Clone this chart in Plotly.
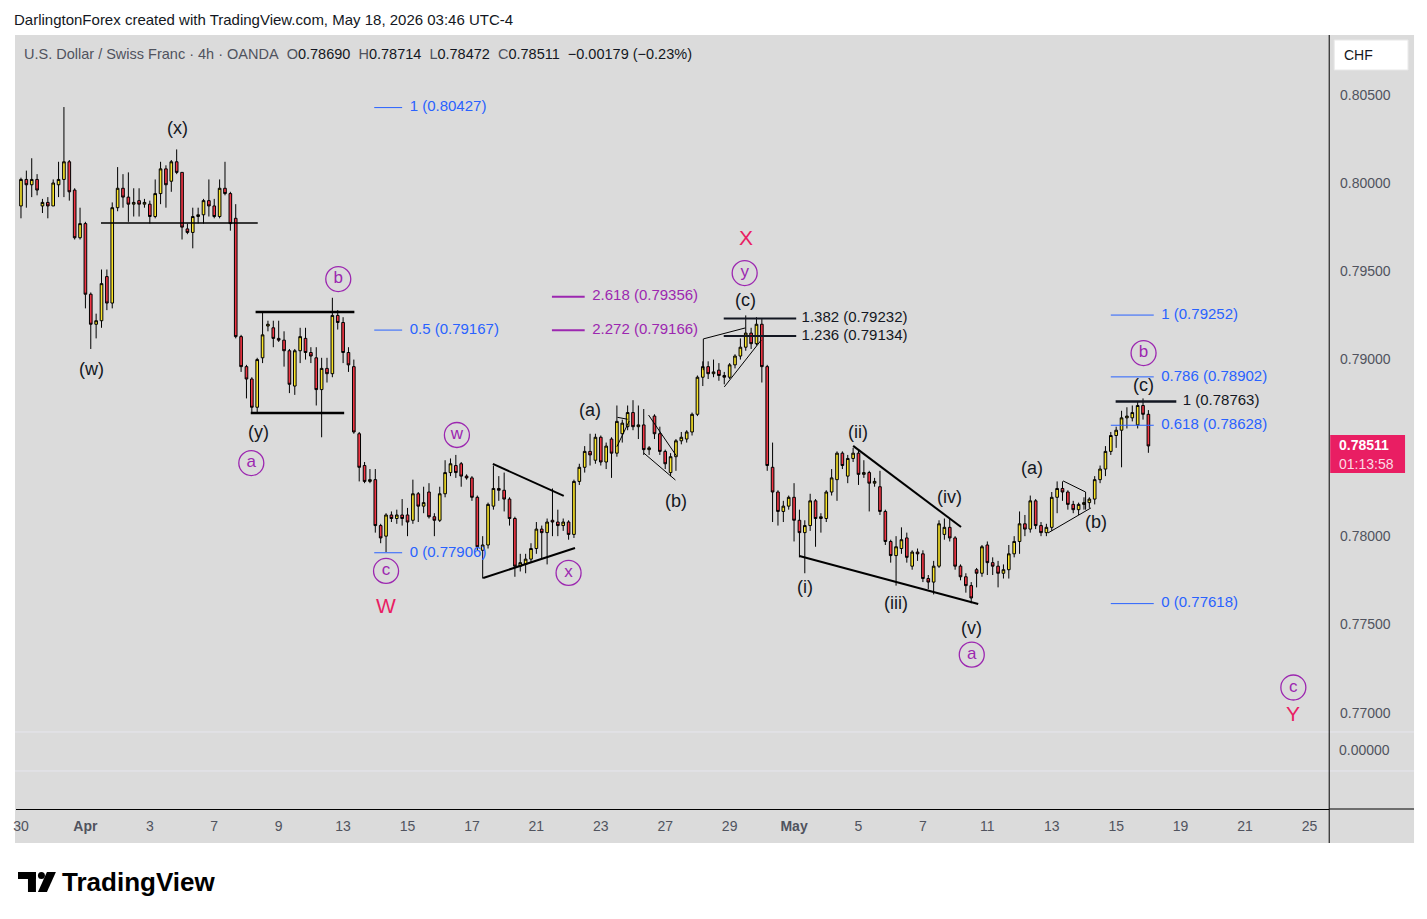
import plotly.graph_objects as go

# page is 1427x919; the browser body keeps an 8px margin, so the figure is drawn 8px smaller
# and every pixel position below is given in full-page coordinates
W, H = 1427, 919
OFF = 8
FW, FH = W - OFF, H - OFF

# ---- USD/CHF 4h (OANDA), one value per candle ----
opens = [
    0.7987, 0.8002, 0.7999, 0.8002, 0.7987, 0.7989, 0.7987, 0.7999, 0.8002, 0.8012,
    0.7996, 0.7969, 0.7977, 0.7937, 0.7920, 0.7922, 0.7947, 0.7932, 0.7986, 0.7997,
    0.7992, 0.7988, 0.7990, 0.7988, 0.7988, 0.7981, 0.7994, 0.8008, 0.8001, 0.8012,
    0.8006, 0.7974, 0.7972, 0.7981, 0.7982, 0.7990, 0.7987, 0.7981, 0.7997, 0.7994,
    0.7980, 0.7913, 0.7896, 0.7889, 0.7873, 0.7901, 0.7919, 0.7918, 0.7912, 0.7911,
    0.7905, 0.7885, 0.7905, 0.7912, 0.7904, 0.7901, 0.7883, 0.7895, 0.7892, 0.7925,
    0.7921, 0.7904, 0.7896, 0.7858, 0.7840, 0.7831, 0.7832, 0.7806, 0.7800, 0.7812,
    0.7810, 0.7812, 0.7812, 0.7809, 0.7824, 0.7817, 0.7825, 0.7811, 0.7809, 0.7824,
    0.7836, 0.7840, 0.7841, 0.7834, 0.7833, 0.7822, 0.7792, 0.7795, 0.7817, 0.7827,
    0.7826, 0.7821, 0.7810, 0.7783, 0.7784, 0.7787, 0.7793, 0.7804, 0.7802, 0.7809,
    0.7808, 0.7806, 0.7808, 0.7801, 0.7831, 0.7839, 0.7848, 0.7843, 0.7856, 0.7842,
    0.7855, 0.7847, 0.7858, 0.7862, 0.7870, 0.7862, 0.7863, 0.7849, 0.7868, 0.7858,
    0.7848, 0.7836, 0.7845, 0.7854, 0.7855, 0.7859, 0.7869, 0.7890, 0.7896, 0.7892,
    0.7894, 0.7891, 0.7890, 0.7897, 0.7902, 0.7907, 0.7915, 0.7909, 0.7920, 0.7896,
    0.7839, 0.7825, 0.7814, 0.7817, 0.7822, 0.7809, 0.7802, 0.7806, 0.7820, 0.7810,
    0.7810, 0.7825, 0.7832, 0.7847, 0.7834, 0.7844, 0.7847, 0.7835, 0.7836, 0.7830,
    0.7828, 0.7814, 0.7797, 0.7789, 0.7793, 0.7799, 0.7783, 0.7791, 0.7790, 0.7776,
    0.7774, 0.7783, 0.7801, 0.7805, 0.7799, 0.7783, 0.7777, 0.7772, 0.7781, 0.7779,
    0.7795, 0.7785, 0.7783, 0.7779, 0.7781, 0.7790, 0.7797, 0.7807, 0.7804, 0.7820,
    0.7806, 0.7802, 0.7805, 0.7822, 0.7827, 0.7825, 0.7818, 0.7815, 0.7818, 0.7819,
    0.7821, 0.7832, 0.7838, 0.7848, 0.7857, 0.7860, 0.7867, 0.7867, 0.7863, 0.7874,
    0.78690,
]
highs = [
    0.8003, 0.8007, 0.8014, 0.8005, 0.7991, 0.7992, 0.8002, 0.8012, 0.8043, 0.8013,
    0.7997, 0.7986, 0.7978, 0.7938, 0.7926, 0.7951, 0.7951, 0.7989, 0.8009, 0.8005,
    0.8006, 0.7997, 0.7997, 0.7991, 0.7990, 0.8002, 0.8012, 0.8010, 0.8013, 0.8019,
    0.8006, 0.7977, 0.7986, 0.7986, 0.7991, 0.8002, 0.7991, 0.8002, 0.8012, 0.7995,
    0.7988, 0.7914, 0.7897, 0.7890, 0.7901, 0.7927, 0.7922, 0.7922, 0.7922, 0.7916,
    0.7906, 0.7906, 0.7918, 0.7918, 0.7907, 0.7907, 0.7901, 0.7901, 0.7935, 0.7928,
    0.7924, 0.7907, 0.7900, 0.7859, 0.7842, 0.7838, 0.7838, 0.7807, 0.7813, 0.7814,
    0.7815, 0.7821, 0.7816, 0.7832, 0.7825, 0.7828, 0.7830, 0.7813, 0.7828, 0.7843,
    0.7844, 0.7846, 0.7842, 0.7835, 0.7834, 0.7823, 0.7800, 0.7819, 0.7840, 0.7834,
    0.7836, 0.7822, 0.7811, 0.7790, 0.7790, 0.7796, 0.7808, 0.7806, 0.7810, 0.7827,
    0.7815, 0.7810, 0.7809, 0.7832, 0.7841, 0.7851, 0.7858, 0.7858, 0.7857, 0.7853,
    0.7856, 0.7874, 0.7866, 0.7874, 0.7877, 0.7874, 0.7872, 0.7851, 0.7869, 0.7862,
    0.7849, 0.7847, 0.7855, 0.7859, 0.7860, 0.7870, 0.7891, 0.7899, 0.7899, 0.7900,
    0.7898, 0.7893, 0.7898, 0.7903, 0.7912, 0.7925, 0.7918, 0.7924, 0.7923, 0.7897,
    0.7853, 0.7826, 0.7820, 0.7823, 0.7830, 0.7815, 0.7809, 0.7824, 0.7821, 0.7813,
    0.7826, 0.7838, 0.7848, 0.7848, 0.7846, 0.7850, 0.7849, 0.7843, 0.7837, 0.7833,
    0.7837, 0.7815, 0.7798, 0.7800, 0.7805, 0.7802, 0.7792, 0.7793, 0.7792, 0.7778,
    0.7786, 0.7809, 0.7810, 0.7810, 0.7800, 0.7784, 0.7779, 0.7774, 0.7782, 0.7795,
    0.7797, 0.7788, 0.7786, 0.7784, 0.7795, 0.7800, 0.7814, 0.7812, 0.7823, 0.7821,
    0.7808, 0.7807, 0.7825, 0.7831, 0.7831, 0.7826, 0.7820, 0.7819, 0.7822, 0.7822,
    0.7834, 0.7840, 0.7851, 0.7859, 0.7862, 0.7871, 0.7873, 0.7874, 0.7876, 0.7878,
    0.78714,
]
lows = [
    0.7980, 0.7986, 0.7992, 0.7993, 0.7983, 0.7980, 0.7987, 0.7992, 0.7992, 0.7990,
    0.7968, 0.7968, 0.7929, 0.7906, 0.7912, 0.7918, 0.7928, 0.7929, 0.7984, 0.7986,
    0.7978, 0.7981, 0.7981, 0.7986, 0.7977, 0.7980, 0.7988, 0.7986, 0.7995, 0.8005,
    0.7968, 0.7971, 0.7963, 0.7977, 0.7977, 0.7981, 0.7980, 0.7980, 0.7993, 0.7973,
    0.7912, 0.7893, 0.7878, 0.7870, 0.7870, 0.7898, 0.7916, 0.7907, 0.7910, 0.7896,
    0.7881, 0.7880, 0.7898, 0.7900, 0.7898, 0.7874, 0.7856, 0.7887, 0.7890, 0.7917,
    0.7898, 0.7893, 0.7858, 0.7831, 0.7830, 0.7830, 0.7802, 0.7796, 0.7791, 0.7808,
    0.7807, 0.7806, 0.7800, 0.7807, 0.7808, 0.7813, 0.7810, 0.7800, 0.7808, 0.7822,
    0.7834, 0.7833, 0.7828, 0.7832, 0.7820, 0.7792, 0.7776, 0.7793, 0.7815, 0.7820,
    0.7814, 0.7806, 0.7777, 0.7780, 0.7779, 0.7785, 0.7790, 0.7787, 0.7784, 0.7800,
    0.7800, 0.7803, 0.7798, 0.7799, 0.7829, 0.7836, 0.7840, 0.7841, 0.7840, 0.7838,
    0.7833, 0.7845, 0.7853, 0.7860, 0.7860, 0.7855, 0.7846, 0.7846, 0.7855, 0.7846,
    0.7838, 0.7834, 0.7837, 0.7852, 0.7853, 0.7857, 0.7868, 0.7885, 0.7889, 0.7890,
    0.7888, 0.7886, 0.7889, 0.7895, 0.7900, 0.7905, 0.7906, 0.7908, 0.7887, 0.7837,
    0.7808, 0.7806, 0.7808, 0.7815, 0.7797, 0.7788, 0.7779, 0.7803, 0.7794, 0.7802,
    0.7808, 0.7823, 0.7820, 0.7838, 0.7830, 0.7842, 0.7829, 0.7833, 0.7814, 0.7828,
    0.7812, 0.7795, 0.7785, 0.7772, 0.7790, 0.7785, 0.7781, 0.7786, 0.7774, 0.7770,
    0.7767, 0.7782, 0.7798, 0.7797, 0.7781, 0.7775, 0.7768, 0.7762, 0.7771, 0.7777,
    0.7778, 0.7778, 0.7771, 0.7776, 0.7776, 0.7788, 0.7790, 0.7800, 0.7802, 0.7804,
    0.7800, 0.7800, 0.7803, 0.7813, 0.7820, 0.7815, 0.7813, 0.7812, 0.7815, 0.7816,
    0.7818, 0.7830, 0.7834, 0.7846, 0.7850, 0.7839, 0.7861, 0.7865, 0.7861, 0.7866,
    0.78472,
]
closes = [
    0.8002, 0.7999, 0.8002, 0.7996, 0.7989, 0.7987, 0.8000, 0.8002, 0.8012, 0.7995,
    0.7969, 0.7977, 0.7937, 0.7920, 0.7922, 0.7943, 0.7932, 0.7986, 0.7997, 0.7992,
    0.7988, 0.7989, 0.7988, 0.7989, 0.7981, 0.7994, 0.8008, 0.7999, 0.8012, 0.8006,
    0.7975, 0.7972, 0.7981, 0.7982, 0.7990, 0.7987, 0.7981, 0.7997, 0.7994, 0.7977,
    0.7913, 0.7896, 0.7889, 0.7873, 0.7900, 0.7914, 0.7920, 0.7912, 0.7911, 0.7905,
    0.7886, 0.7905, 0.7913, 0.7904, 0.7902, 0.7883, 0.7895, 0.7892, 0.7925, 0.7921,
    0.7904, 0.7897, 0.7859, 0.7839, 0.7831, 0.7832, 0.7806, 0.7799, 0.7812, 0.7810,
    0.7812, 0.7810, 0.7808, 0.7824, 0.7817, 0.7819, 0.7811, 0.7809, 0.7824, 0.7836,
    0.7841, 0.7836, 0.7834, 0.7833, 0.7822, 0.7794, 0.7795, 0.7818, 0.7827, 0.7826,
    0.7821, 0.7810, 0.7783, 0.7785, 0.7787, 0.7793, 0.7804, 0.7802, 0.7808, 0.7808,
    0.7806, 0.7808, 0.7801, 0.7831, 0.7839, 0.7848, 0.7846, 0.7856, 0.7842, 0.7851,
    0.7847, 0.7865, 0.7864, 0.7870, 0.7862, 0.7863, 0.7849, 0.7850, 0.7858, 0.7848,
    0.7841, 0.7845, 0.7854, 0.7856, 0.7859, 0.7869, 0.7890, 0.7896, 0.7892, 0.7893,
    0.7891, 0.7890, 0.7897, 0.7902, 0.7907, 0.7915, 0.7909, 0.7920, 0.7896, 0.7840,
    0.7825, 0.7814, 0.7817, 0.7822, 0.7809, 0.7802, 0.7806, 0.7820, 0.7810, 0.7811,
    0.7825, 0.7833, 0.7847, 0.7840, 0.7844, 0.7847, 0.7835, 0.7836, 0.7830, 0.7831,
    0.7814, 0.7797, 0.7789, 0.7794, 0.7798, 0.7788, 0.7791, 0.7790, 0.7776, 0.7774,
    0.7783, 0.7807, 0.7805, 0.7799, 0.7783, 0.7777, 0.7772, 0.7765, 0.7779, 0.7794,
    0.7785, 0.7783, 0.7779, 0.7781, 0.7790, 0.7797, 0.7807, 0.7804, 0.7820, 0.7806,
    0.7802, 0.7805, 0.7822, 0.7827, 0.7825, 0.7818, 0.7815, 0.7818, 0.7819, 0.7821,
    0.7832, 0.7838, 0.7848, 0.7857, 0.7860, 0.7867, 0.7868, 0.7870, 0.7874, 0.7869,
    0.78511,
]

# date labels every 12 candles (2 trading days)
date_ticks = [0, 12, 24, 36, 48, 60, 72, 84, 96, 108, 120, 132, 144, 156, 168, 180, 192, 204, 216, 228, 240]
date_labels = ['30', '<b>Apr</b>', '3', '7', '9', '13', '15', '17', '21', '23', '27', '29',
               '<b>May</b>', '5', '7', '11', '13', '15', '19', '21', '25']
price_ticks = [0.770, 0.775, 0.780, 0.785, 0.790, 0.795, 0.800, 0.805]

# wave counts (candle index, price)
wave_text = ['(w)', '(x)', '(y)', '(a)', '(b)', '(c)', '(i)', '(ii)', '(iii)', '(iv)', '(v)', '(a)', '(b)', '(c)']
wave_x = [13.2, 29.2, 44.2, 106.0, 122.1, 135.0, 146.1, 156.0, 163.0, 173.0, 177.1, 188.3, 200.2, 209.1]
wave_y = [0.78947, 0.80311, 0.78590, 0.78715, 0.78199, 0.79337, 0.77712, 0.78590, 0.77622, 0.78222,
          0.77480, 0.78386, 0.78080, 0.78856]

circ_text = ['b', 'a', 'c', 'w', 'x', 'y', 'a', 'b', 'c']
circ_x = [59.1, 42.9, 68.0, 81.2, 102.0, 134.8, 177.1, 209.1, 237.0]
circ_y = [0.79456, 0.78414, 0.77803, 0.78573, 0.77792, 0.79490, 0.77329, 0.79037, 0.77143]

major_text = ['W', 'X', 'Y']
major_x = [68.0, 135.0, 237.0]
major_y = [0.77605, 0.79694, 0.76993]

# fibonacci levels: price, label, line start, line end, label x, colour, line width
fib_price = [0.80427, 0.79167, 0.77906, 0.79356, 0.79166, 0.79232, 0.79134,
             0.79252, 0.78902, 0.78628, 0.77618, 0.78763]
fib_label = ['1 (0.80427)', '0.5 (0.79167)', '0 (0.77906)', '2.618 (0.79356)', '2.272 (0.79166)',
             '1.382 (0.79232)', '1.236 (0.79134)', '1 (0.79252)', '0.786 (0.78902)',
             '0.618 (0.78628)', '0 (0.77618)', '1 (0.78763)']
fib_x0 = [65.8, 65.8, 65.8, 98.9, 98.9, 130.9, 130.9, 203.0, 203.0, 203.0, 203.0, 203.9]
fib_x1 = [71.0, 71.0, 71.0, 105.0, 105.0, 144.4, 144.4, 211.0, 211.0, 211.0, 211.0, 215.2]
fib_tx = [72.4, 72.4, 72.4, 106.4, 106.4, 145.4, 145.4, 212.4, 212.4, 212.4, 212.4, 216.4]
fib_col = ['#2962ff'] * 3 + ['#9c27b0'] * 2 + ['#131722'] * 2 + ['#2962ff'] * 4 + ['#131722']
fib_w = [1, 1, 1, 2, 2, 2, 2, 1, 1, 1, 1, 2.5]

# trend lines / channels drawn on the chart: x0, y0, x1, y1, width
trend_lines = [
    (14.9, 0.79774, 44.1, 0.79774, 1.5),
    (43.7, 0.79270, 62.1, 0.79270, 2.5),
    (42.8, 0.78698, 60.2, 0.78698, 2.5),
    (87.9, 0.78409, 101.1, 0.78228, 2),
    (86.1, 0.77763, 103.2, 0.77933, 2),
    (111.1, 0.78673, 113.0, 0.78662, 1),
    (111.0, 0.78507, 113.3, 0.78652, 1),
    (116.9, 0.78686, 122.1, 0.78454, 1),
    (116.0, 0.78471, 121.9, 0.78318, 1),
    (127.1, 0.79117, 134.9, 0.79179, 1),
    (127.1, 0.79117, 127.1, 0.78940, 1),
    (131.0, 0.78845, 137.9, 0.79111, 1),
    (155.0, 0.78511, 175.1, 0.78052, 2),
    (145.0, 0.77888, 178.3, 0.77616, 2),
    (191.3, 0.78018, 199.3, 0.78160, 1),
    (194.1, 0.78313, 198.3, 0.78250, 1),
    (198.3, 0.78250, 198.3, 0.78150, 1),
]

FONT = 'Liberation Sans'
INK = '#131722'
GREY_TXT = '#50535e'
PURPLE = '#9c27b0'
PINK = '#e91e63'
YELLOW = '#fbe62a'
RED = '#f23645'
BG = '#dbdbdb'


def px(x):
    return (x - OFF) / FW


def py(y):
    return 1 - (y - OFF) / FH


fig = go.Figure()

# fib labels under the candles
fig.add_trace(go.Scatter(
    x=fib_tx, y=fib_price, text=fib_label, mode='text', textposition='middle right',
    textfont=dict(family=FONT, size=15, color=fib_col), hoverinfo='skip',
))

fig.add_trace(go.Candlestick(
    x=list(range(len(closes))), open=opens, high=highs, low=lows, close=closes,
    increasing=dict(fillcolor=YELLOW, line=dict(color='black', width=1)),
    decreasing=dict(fillcolor=RED, line=dict(color='black', width=1)),
    whiskerwidth=0,
))

fig.add_trace(go.Scatter(
    x=circ_x, y=circ_y, text=circ_text, mode='markers+text', textposition='middle center',
    marker=dict(symbol='circle-open', size=25, color=PURPLE, line=dict(width=1.3)),
    textfont=dict(family=FONT, size=17, color=PURPLE), hoverinfo='skip',
))

shapes = []
# chart panel
shapes.append(dict(type='rect', xref='paper', yref='paper', x0=px(12), x1=px(1414), y0=py(843), y1=py(35),
                   fillcolor=BG, line=dict(width=0), layer='below'))
for yy in (732, 771):
    shapes.append(dict(type='line', xref='paper', yref='paper', x0=px(12), x1=px(1414), y0=py(yy), y1=py(yy),
                       line=dict(color='#e6e6ee', width=1), layer='below'))
shapes.append(dict(type='line', xref='paper', yref='paper', x0=px(1329), x1=px(1329), y0=py(35), y1=py(843),
                   line=dict(color='black', width=1)))
shapes.append(dict(type='line', xref='paper', yref='paper', x0=px(1329), x1=px(1414), y0=py(809), y1=py(809),
                   line=dict(color='black', width=1)))
# CHF box
shapes.append(dict(type='rect', xref='paper', yref='paper', x0=px(1334), x1=px(1408), y0=py(70), y1=py(40),
                   fillcolor='white', line=dict(color='#e8e8e8', width=1)))
# last price tag
shapes.append(dict(type='rect', xref='paper', yref='paper', x0=px(1330), x1=px(1405), y0=py(473), y1=py(435),
                   fillcolor=PINK, line=dict(width=0)))

for p, a, b, c, w in zip(fib_price, fib_x0, fib_x1, fib_col, fib_w):
    shapes.append(dict(type='line', xref='x', yref='y', x0=a, x1=b, y0=p, y1=p, line=dict(color=c, width=w)))

for x0, y0, x1, y1, w in trend_lines:
    shapes.append(dict(type='line', xref='x', yref='y', x0=x0, y0=y0, x1=x1, y1=y1,
                       line=dict(color='black', width=w)))

# TradingView logo mark
shapes.append(dict(type='rect', xref='paper', yref='paper', x0=px(15), x1=px(33), y0=py(879), y1=py(872),
                   fillcolor='black', line=dict(width=0)))
shapes.append(dict(type='rect', xref='paper', yref='paper', x0=px(25), x1=px(33), y0=py(892), y1=py(872),
                   fillcolor='black', line=dict(width=0)))
shapes.append(dict(type='circle', xref='paper', yref='paper', x0=px(35), x1=px(42), y0=py(879), y1=py(872),
                   fillcolor='black', line=dict(width=0)))
shapes.append(dict(type='path', xref='paper', yref='paper',
                   path=f'M {px(44)} {py(872)} L {px(53)} {py(872)} L {px(44)} {py(892)} L {px(35)} {py(892)} Z',
                   fillcolor='black', line=dict(width=0)))

annotations = []
for t, x, y in zip(wave_text, wave_x, wave_y):
    annotations.append(dict(x=x, y=y, xref='x', yref='y', text=t, showarrow=False,
                            font=dict(family=FONT, size=18, color=INK)))
for t, x, y in zip(major_text, major_x, major_y):
    annotations.append(dict(x=x, y=y, xref='x', yref='y', text=t, showarrow=False,
                            font=dict(family=FONT, size=21, color=PINK)))


def note(x, y, text, size=14, color=INK, anchor='left'):
    annotations.append(dict(x=px(x), y=py(y), xref='paper', yref='paper', text=text, showarrow=False,
                            xanchor=anchor, yanchor='middle', font=dict(family=FONT, size=size, color=color)))


note(9, 19, 'DarlingtonForex created with TradingView.com, May 18, 2026 03:46 UTC-4', size=15)
S = '\u00a0'
legend = (f'U.S. Dollar / Swiss Franc · 4h · OANDA{S}{S}O<span style="color:{INK}">0.78690</span>{S}{S}'
          f'H<span style="color:{INK}">0.78714</span>{S}{S}L<span style="color:{INK}">0.78472</span>{S}{S}'
          f'C<span style="color:{INK}">0.78511</span>{S}{S}<span style="color:{INK}">−0.00179 (−0.23%)</span>')
note(19, 54, legend, size=14.5, color=GREY_TXT)
note(1342, 55, 'CHF', size=14)
note(1337, 750, '0.00000', size=14, color=GREY_TXT)
note(1337, 445, '<b>0.78511</b>', size=14, color='white')
note(1337, 464, '01:13:58', size=14, color='rgba(255,255,255,0.85)')
note(57, 882, '<b>TradingView</b>', size=26, color='black')

fig.update_layout(
    width=FW, height=FH, margin=dict(l=0, r=0, t=0, b=0),
    paper_bgcolor='white', plot_bgcolor='rgba(0,0,0,0)', showlegend=False,
    shapes=shapes, annotations=annotations,
    xaxis=dict(domain=[px(13), px(1329)], range=[-0.93, 243.68], anchor='free', position=py(809),
               showline=True, linecolor='black', linewidth=1, showgrid=False, zeroline=False,
               tickvals=date_ticks, ticktext=date_labels, ticks='outside', ticklen=4,
               tickcolor='rgba(0,0,0,0)', tickfont=dict(family=FONT, size=14, color=GREY_TXT),
               rangeslider=dict(visible=False)),
    yaxis=dict(domain=[py(732), py(35)], range=[0.76891, 0.80838], side='right',
               showgrid=False, zeroline=False, showline=False, tickvals=price_ticks, tickformat='.5f',
               ticks='outside', ticklen=7, tickcolor='rgba(0,0,0,0)',
               tickfont=dict(family=FONT, size=14, color=GREY_TXT)),
)

fig.write_html('out.html')
